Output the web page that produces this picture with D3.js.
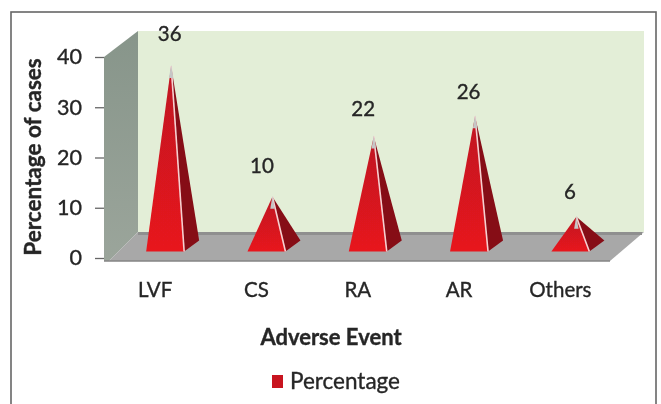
<!DOCTYPE html>
<html lang="en">

<head>
    <meta charset="UTF-8">
    <title>Adverse Event</title>
    <style>
        html, body { margin: 0; padding: 0; background: #fff; }
        text { font-family: Lato, "Open Sans", sans-serif; fill: #262626; stroke: #262626; stroke-width: 0.35px; filter: blur(0.35px); }
        .domain { display: none; }
    </style>
</head>

<body>
    <div id="wrapper"></div>
    <script src="https://d3js.org/d3.v7.min.js"></script>
    <script>
        const categories = ['LVF', 'CS', 'RA', 'AR', 'Others'];
        const percentages = [36, 10, 22, 26, 6];
        const yTicks = [0, 10, 20, 30, 40];
        const seriesName = 'Percentage';

        const width = 661, height = 404;
        const svg = d3.select('#wrapper').append('svg')
            .attr('width', width)
            .attr('height', height)
            .style('display', 'block');

        // soft look of the scanned figure
        const defs = svg.append('defs');
        defs.append('filter').attr('id', 'soft')
            .append('feGaussianBlur').attr('stdDeviation', 0.6);
        const redFade = defs.append('linearGradient').attr('id', 'redFade')
            .attr('x1', 0).attr('y1', 0).attr('x2', 0).attr('y2', 1);
        redFade.append('stop').attr('offset', 0).attr('stop-color', '#bf1420');
        redFade.append('stop').attr('offset', 1).attr('stop-color', '#e8161f');
        const wallFade = defs.append('linearGradient').attr('id', 'wallFade')
            .attr('x1', 0).attr('y1', 0).attr('x2', 0).attr('y2', 1);
        wallFade.append('stop').attr('offset', 0).attr('stop-color', '#87958a');
        wallFade.append('stop').attr('offset', 1).attr('stop-color', '#9ba59b');

        svg.append('rect')
            .attr('x', 11).attr('y', 12)
            .attr('width', 645).attr('height', 420)
            .attr('fill', '#fff').attr('stroke', '#666').attr('stroke-width', 1.6);

        const y = d3.scaleLinear().domain([0, 40]).range([258, 57]);
        const x = d3.scaleBand().domain(categories).range([114.5, 621]);

        // box depth of the 3d plot
        const depthX = 34, depthY = -26;
        const floorLeft = 104, floorRight = 610;
        const line = d3.line();

        const plot = svg.append('g').attr('filter', 'url(#soft)');

        plot.append('path') // back wall
            .attr('d', line([[floorLeft + depthX, y(40) + depthY], [floorRight + depthX, y(40) + depthY],
                [floorRight + depthX, y(0) + depthY], [floorLeft + depthX, y(0) + depthY]]) + 'Z')
            .attr('fill', '#e3eed7');
        plot.append('path') // side wall
            .attr('d', line([[floorLeft, y(40)], [floorLeft + depthX, y(40) + depthY],
                [floorLeft + depthX, y(0) + depthY], [floorLeft + 5, y(0) + 3], [floorLeft, y(0) + 3]]) + 'Z')
            .attr('fill', 'url(#wallFade)');
        plot.append('path') // floor
            .attr('d', line([[floorLeft + 5, y(0) + 3], [floorLeft + depthX, y(0) + depthY],
                [floorRight + depthX, y(0) + depthY], [floorRight, y(0) + 3]]) + 'Z')
            .attr('fill', '#a8a8a8');
        plot.append('path') // back edge of the floor
            .attr('d', line([[floorLeft + depthX, y(0) + depthY + 1.5], [floorRight + depthX - 2, y(0) + depthY + 1.5]]))
            .attr('stroke', '#8f8f8f').attr('stroke-width', 3);
        plot.append('path') // front edge of the floor
            .attr('d', line([[floorLeft, y(0) + 3], [floorRight, y(0) + 3]]))
            .attr('stroke', '#848484').attr('stroke-width', 1.6);

        // pyramids: front face + dark side face + grey tip
        const baseY = y(0) - 6.5, half = 19, backX = 34, backY = -11, tipX = 6, tipY = -11;
        const pyramid = plot.selectAll('g.pyramid')
            .data(categories)
            .join('g')
            .attr('class', 'pyramid');

        function apex(d, i) {
            return [x(d) + x.bandwidth() / 2 + tipX, y(percentages[i]) + tipY];
        }

        pyramid.append('path')
            .attr('d', (d, i) => {
                const c = x(d) + x.bandwidth() / 2;
                return line([apex(d, i), [c + backX, baseY + backY], [c + half, baseY]]) + 'Z';
            })
            .attr('fill', '#860b15');
        pyramid.append('path')
            .attr('d', (d, i) => {
                const c = x(d) + x.bandwidth() / 2;
                return line([apex(d, i), [c + half, baseY], [c - half, baseY]]) + 'Z';
            })
            .attr('fill', 'url(#redFade)');
        pyramid.append('path') // light edge between the faces
            .attr('d', (d, i) => {
                const c = x(d) + x.bandwidth() / 2;
                return line([apex(d, i), [c + half, baseY]]);
            })
            .attr('stroke', '#f6d0d0').attr('stroke-width', 1.6);
        pyramid.append('path') // pale tip
            .attr('d', (d, i) => {
                const a = apex(d, i);
                return line([[a[0], a[1] - 1], [a[0] - 2.2, a[1] + 12], [a[0] + 2.2, a[1] + 12]]) + 'Z';
            })
            .attr('fill', '#c6c6c6');

        // y axis
        const yAxis = d3.axisLeft(y).tickValues(yTicks).tickSize(9).tickPadding(13);
        const yG = svg.append('g')
            .attr('transform', `translate(${floorLeft},0)`)
            .call(yAxis);
        yG.selectAll('line').attr('stroke', '#666').attr('stroke-width', 1.3);
        yG.selectAll('text').attr('font-size', 21.5);

        // x axis labels sit a little left of the pyramids
        const xAxis = d3.axisBottom(x).tickSize(0).tickPadding(0);
        const xG = svg.append('g')
            .attr('transform', 'translate(-10,282)')
            .call(xAxis);
        xG.selectAll('text').attr('font-size', 20.5);

        // value labels
        const labelNudge = {
            LVF: [6.5, -4], CS: [-2.5, -3], RA: [-2.5, 1], AR: [1.5, 4], Others: [1.5, 3]
        };
        svg.append('g').selectAll('text')
            .data(categories)
            .join('text')
            .attr('text-anchor', 'middle')
            .attr('x', (d, i) => apex(d, i)[0] - 8 + labelNudge[d][0])
            .attr('y', (d, i) => apex(d, i)[1] - 21 + labelNudge[d][1])
            .attr('font-size', 20.5)
            .text((d, i) => percentages[i]);

        // axis titles
        svg.append('text')
            .attr('transform', 'translate(41,157) rotate(-90)')
            .attr('text-anchor', 'middle')
            .attr('font-size', 22.5)
            .attr('font-weight', 700)
            .text('Percentage of cases');
        svg.append('text')
            .attr('x', 331).attr('y', 345)
            .attr('text-anchor', 'middle')
            .attr('font-size', 22)
            .attr('font-weight', 700)
            .text('Adverse Event');

        // legend
        svg.append('rect')
            .attr('x', 272).attr('y', 375).attr('width', 11).attr('height', 13)
            .attr('fill', '#c8141f');
        svg.append('text')
            .attr('x', 290).attr('y', 389)
            .attr('font-size', 22.5)
            .text(seriesName);
    </script>
</body>

</html>
